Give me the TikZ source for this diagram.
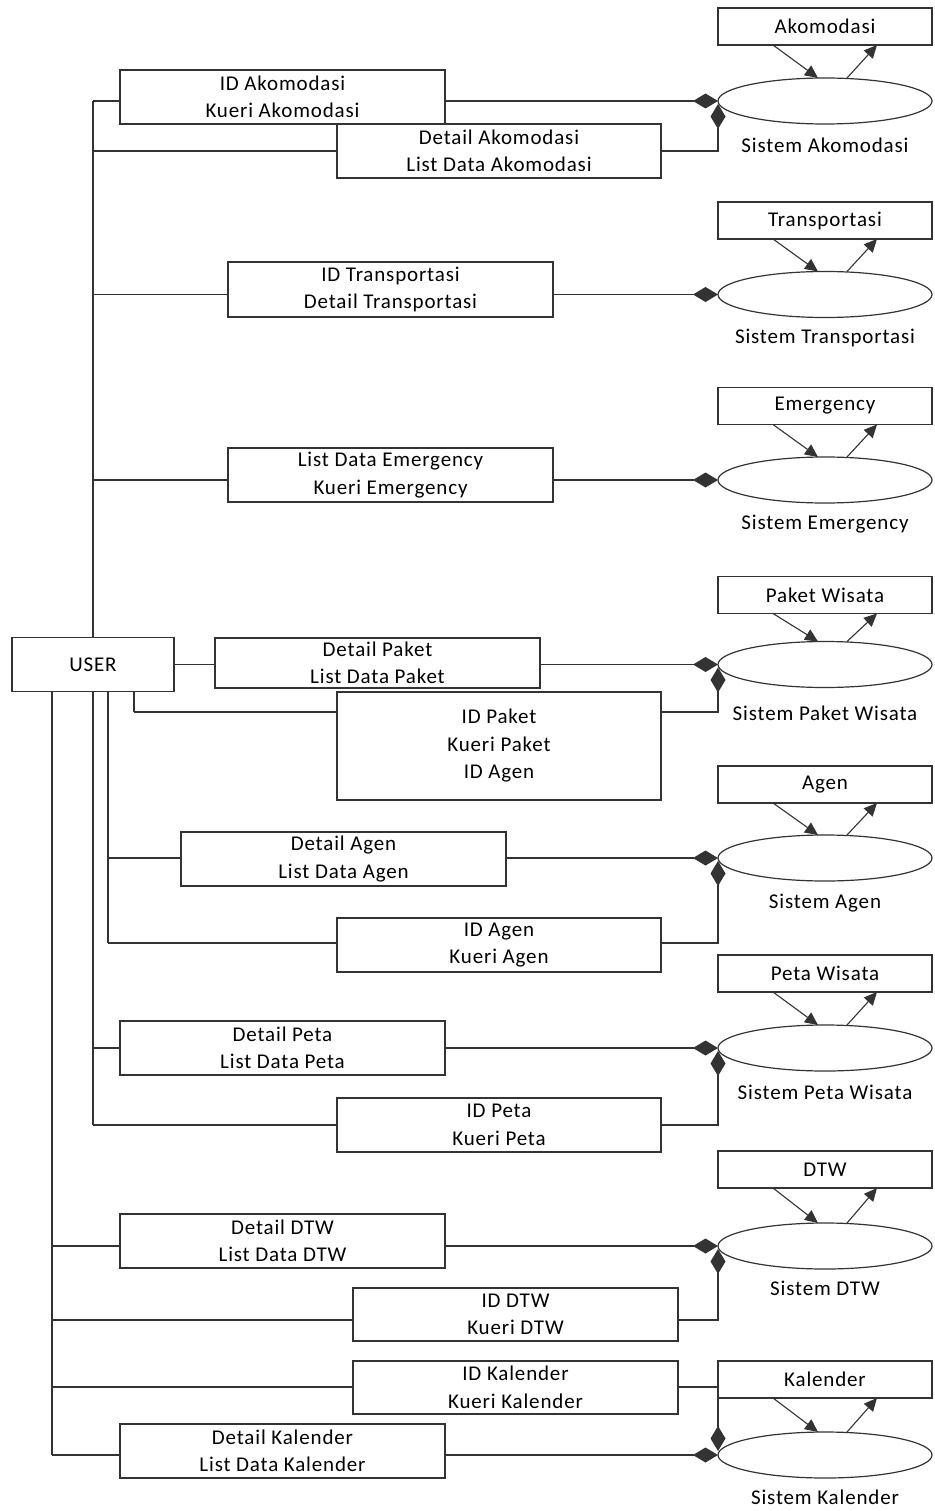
\documentclass[tikz,border=0pt]{standalone}
\usepackage{fontspec}
\setmainfont{Carlito}[LetterSpace=4.0]
\usetikzlibrary{arrows.meta,shapes.geometric}
\begin{document}
\begin{tikzpicture}[x=1pt,y=-1pt,
  every node/.style={font=\fontsize{21pt}{27.5pt}\selectfont, inner sep=0pt, outer sep=0pt},
  box/.style={draw=black!80, line width=1.3pt, fill=white, align=center},
  topbox/.style={box, minimum width=214pt, minimum height=37pt},
  proc/.style={draw=black!80, line width=1.2pt, ellipse, minimum width=214pt, minimum height=46pt},
  wire/.style={draw=black!80, line width=1.3pt},
  dia/.style={wire, -{Diamond[length=25pt,width=15pt]}},
  flow/.style={wire, line width=1.1pt, -{Triangle[length=13pt,width=12pt]}},
]
\fill[white] (0,0) rectangle (934,1511);
\useasboundingbox (0,0) rectangle (934,1511);

% ---------- user entity ----------
\node[box, minimum width=162pt, minimum height=54pt] (user) at (93,664.5) {USER};

% ---------- data stores (top boxes) ----------
\node[topbox] (sAK) at (825,26.5)   {Akomodasi};
\node[topbox] (sTR) at (825,220.5)  {Transportasi};
\node[topbox] (sEM) at (825,406)    {Emergency};
\node[topbox] (sPW) at (825,595)    {Paket Wisata};
\node[topbox] (sAG) at (825,784.5)  {Agen};
\node[topbox] (sPT) at (825,973.5)  {Peta Wisata};
\node[topbox] (sDT) at (825,1169.5) {DTW};
\node[topbox] (sKL) at (825,1379.5) {Kalender};

% ---------- processes ----------
\node[proc] (eAK) at (825,101)    {};
\node[proc] (eTR) at (825,294.5)  {};
\node[proc] (eEM) at (825,480)    {};
\node[proc] (ePW) at (825,664.5)  {};
\node[proc] (eAG) at (825,858)    {};
\node[proc] (ePT) at (825,1048)   {};
\node[proc] (eDT) at (825,1246)   {};
\node[proc] (eKL) at (825,1455)   {};

\node (lAK) at (825,145)  {Sistem Akomodasi};
\node (lTR) at (825,338)  {Sistem Transportasi};
\node (lEM) at (825,524)  {Sistem Emergency};
\node (lPW) at (825,713)  {Sistem Paket Wisata};
\node (lAG) at (825,903)  {Sistem Agen};
\node (lPT) at (825,1092) {Sistem Peta Wisata};
\node (lDT) at (825,1288) {Sistem DTW};
\node (lKL) at (825,1497) {Sistem Kalender};

% store <-> process flows
\foreach \s/\e in {sAK/eAK,sTR/eTR,sEM/eEM,sPW/ePW,sAG/eAG,sPT/ePT,sDT/eDT,sKL/eKL}{
  \draw[flow] ([xshift=-52pt]\s.south) -- ([xshift=-7pt]\e.north);
  \draw[flow] ([xshift=22pt]\e.north) -- ([xshift=52pt]\s.south);
}

% ---------- data flow boxes ----------
\node[box, minimum width=325pt, minimum height=54pt]  (a1) at (282.5,97)   {ID Akomodasi\\Kueri Akomodasi};
\node[box, minimum width=324pt, minimum height=54pt]  (a2) at (499,151)    {Detail Akomodasi\\List Data Akomodasi};
\node[box, minimum width=325pt, minimum height=55pt]  (t1) at (390.5,289.5){ID Transportasi\\Detail Transportasi};
\node[box, minimum width=325pt, minimum height=54pt]  (e1) at (390.5,475)  {List Data Emergency\\Kueri Emergency};
\node[box, minimum width=325pt, minimum height=50pt]  (p1) at (377.5,663)  {Detail Paket\\List Data Paket};
\node[box, minimum width=324pt, minimum height=108pt] (p2) at (499,746)    {ID Paket\\Kueri Paket\\ID Agen};
\node[box, minimum width=325pt, minimum height=54pt]  (g1) at (343.5,859)  {Detail Agen\\List Data Agen};
\node[box, minimum width=324pt, minimum height=54pt]  (g2) at (499,945)    {ID Agen\\Kueri Agen};
\node[box, minimum width=325pt, minimum height=54pt]  (m1) at (282.5,1048) {Detail Peta\\List Data Peta};
\node[box, minimum width=324pt, minimum height=54pt]  (m2) at (499,1125)   {ID Peta\\Kueri Peta};
\node[box, minimum width=325pt, minimum height=54pt]  (d1) at (282.5,1241) {Detail DTW\\List Data DTW};
\node[box, minimum width=325pt, minimum height=53pt]  (d2) at (515.5,1314.5){ID DTW\\Kueri DTW};
\node[box, minimum width=325pt, minimum height=53pt]  (k1) at (515.5,1387.5){ID Kalender\\Kueri Kalender};
\node[box, minimum width=325pt, minimum height=54pt]  (k2) at (282.5,1451) {Detail Kalender\\List Data Kalender};

% ---------- junctions on the user trunks ----------
\coordinate (jA1) at (93,101);
\coordinate (jA2) at (93,151);
\coordinate (jT)  at (93,294.5);
\coordinate (jE)  at (93,480);
\coordinate (jP)  at (134,712);
\coordinate (jG1) at (108,858);
\coordinate (jG2) at (108,943);
\coordinate (jM1) at (93,1048);
\coordinate (jM2) at (93,1125);
\coordinate (jD1) at (52,1246);
\coordinate (jD2) at (52,1320);
\coordinate (jK1) at (52,1387);
\coordinate (jK2) at (52,1455);

% trunks
\draw[wire] (user.north) -- (jA1);
\draw[wire] (user.south -| jP) -- (jP);
\draw[wire] (user.south -| jG2) -- (jG2);
\draw[wire] (user.south -| jM2) -- (jM2);
\draw[wire] (user.south -| jK2) -- (jK2);

% Akomodasi
\draw[wire] (jA1) -- (a1.west |- jA1);
\draw[dia]  (a1.east |- eAK.west) -- (eAK.west);
\draw[wire] (jA2) -- (a2.west |- jA2);
\draw[dia]  (a2.east |- jA2) -| ([yshift=-3pt]eAK.west);

% Transportasi
\draw[wire] (jT) -- (t1.west |- jT);
\draw[dia]  (t1.east |- eTR.west) -- (eTR.west);

% Emergency
\draw[wire] (jE) -- (e1.west |- jE);
\draw[dia]  (e1.east |- eEM.west) -- (eEM.west);

% Paket Wisata
\draw[wire] (user.east) -- (p1.west |- user.east);
\draw[dia]  (p1.east |- ePW.west) -- (ePW.west);
\draw[wire] (jP) -- (p2.west |- jP);
\draw[dia]  (p2.east |- jP) -| ([yshift=-3pt]ePW.west);

% Agen
\draw[wire] (jG1) -- (g1.west |- jG1);
\draw[dia]  (g1.east |- eAG.west) -- (eAG.west);
\draw[wire] (jG2) -- (g2.west |- jG2);
\draw[dia]  (g2.east |- jG2) -| ([yshift=-3pt]eAG.west);

% Peta Wisata
\draw[wire] (jM1) -- (m1.west |- jM1);
\draw[dia]  (m1.east |- ePT.west) -- (ePT.west);
\draw[wire] (jM2) -- (m2.west |- jM2);
\draw[dia]  (m2.east |- jM2) -| ([yshift=-3pt]ePT.west);

% DTW
\draw[wire] (jD1) -- (d1.west |- jD1);
\draw[dia]  (d1.east |- eDT.west) -- (eDT.west);
\draw[wire] (jD2) -- (d2.west |- jD2);
\draw[dia]  (d2.east |- jD2) -| ([yshift=-3pt]eDT.west);

% Kalender
\draw[wire] (jK1) -- (k1.west |- jK1);
\draw[dia]  (k1.east |- jK1) -| ([yshift=4pt]eKL.west);
\draw[wire] (jK2) -- (k2.west |- jK2);
\draw[dia]  (k2.east |- eKL.west) -- (eKL.west);
\end{tikzpicture}
\end{document}
